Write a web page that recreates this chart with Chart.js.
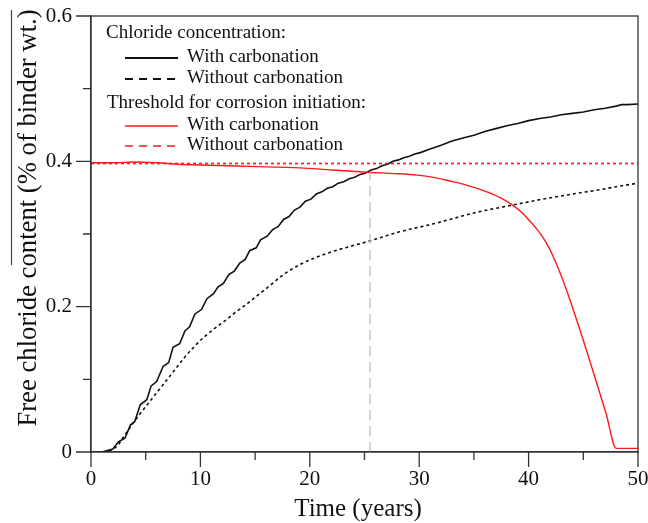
<!DOCTYPE html>
<html lang="en">
<head>
  <meta charset="UTF-8" />
  <title>Free chloride content vs time</title>
  <script src="https://cdn.jsdelivr.net/npm/chart.js"></script>
  <style>
    body { margin: 0; background: #fff; }
    #wrap { width: 648px; height: 523px; }
  </style>
</head>
<body>
  <div id="wrap"><canvas id="chlorideChart" width="648" height="523"></canvas></div>
  <script>
    // Chloride concentration with carbonation (time in years, % of binder wt.)
    const clCarbT = [0, 1.0, 2.0, 2.5, 3.1, 3.6, 4.0, 4.5, 5.1, 5.5, 6.0, 6.6, 7.1, 7.5, 8.1, 8.6, 9.0, 9.5, 10.1, 10.6,
      11.2, 11.6, 12.1, 12.6, 13.1, 13.6, 14.1, 14.5, 15.1, 15.5, 16.1, 16.6, 17.1, 17.6, 18.1, 18.6, 19.1, 19.6,
      20.1, 20.6, 21.1, 21.6, 22.1, 22.6, 23.1, 23.6, 24.1, 24.6, 25.1, 25.6, 26.1, 26.6, 27.1, 27.6, 28.1, 28.6,
      29.1, 29.6, 30.1, 31, 32, 33, 34, 35, 36, 37, 38, 39, 40, 41, 42, 43, 44, 45, 46, 47, 48, 48.5, 49, 50];
    const clCarbV = [0, 0, 0.004, 0.014, 0.019, 0.037, 0.042, 0.065, 0.072, 0.091, 0.097, 0.118, 0.123, 0.144, 0.149, 0.167, 0.172, 0.190, 0.196, 0.211,
      0.218, 0.227, 0.232, 0.244, 0.249, 0.260, 0.265, 0.277, 0.281, 0.292, 0.297, 0.306, 0.310, 0.320, 0.324, 0.333, 0.337, 0.345,
      0.348, 0.355, 0.358, 0.363, 0.365, 0.370, 0.372, 0.376, 0.378, 0.382, 0.384, 0.388, 0.390, 0.394, 0.396, 0.400, 0.402, 0.405,
      0.407, 0.410, 0.412, 0.417, 0.422, 0.428, 0.432, 0.436, 0.441, 0.445, 0.449, 0.452, 0.456, 0.459, 0.461, 0.464, 0.466, 0.468, 0.471, 0.473, 0.476, 0.478, 0.478, 0.479];

    // Chloride concentration without carbonation
    const clNoCarbT = [0, 1, 1.5, 2, 2.5, 2.8, 3.4, 4.3, 5.5, 6.5, 7.4, 8.6, 9.5, 10.4, 11.3, 12.2, 13.2, 14.1, 15.1, 16.1,
      17.6, 19.1, 20.6, 22.1, 23.7, 25.6, 28.2, 31.3, 32.8, 35, 38.6, 41.3, 44, 46.5, 48, 50];
    const clNoCarbV = [0, 0, 0.001, 0.004, 0.010, 0.017, 0.030, 0.049, 0.072, 0.091, 0.108, 0.131, 0.146, 0.159, 0.170, 0.180, 0.192, 0.202, 0.214, 0.226,
      0.244, 0.258, 0.268, 0.276, 0.283, 0.291, 0.303, 0.314, 0.320, 0.329, 0.340, 0.348, 0.355, 0.361, 0.365, 0.370];

    // Threshold for corrosion initiation with carbonation
    const thrCarbT = [0, 2, 4, 6, 8, 10, 14.5, 19.1, 22, 25.3, 28, 29.8, 31.3, 32.8, 34.4, 36, 37.4, 38.6, 39.5, 40.1,
      40.9, 41.65, 42.4, 43.2, 43.9, 44.7, 45.5, 46.2, 47.1, 48.0, 50];
    const thrCarbV = [0.398, 0.398, 0.399, 0.398, 0.396, 0.395, 0.393, 0.391, 0.388, 0.385, 0.383, 0.381, 0.378, 0.373, 0.367, 0.359, 0.350, 0.339, 0.328, 0.318,
      0.304, 0.287, 0.264, 0.234, 0.204, 0.168, 0.130, 0.096, 0.052, 0.005, 0.005];

    // Threshold without carbonation (constant)
    const thrNoCarbT = [0, 50];
    const thrNoCarbV = [0.397, 0.397];

    // Time when the chloride curve reaches the threshold
    const initT = [25.5, 25.5];
    const initV = [0, 0.385];

    const xTicks = [0, 10, 20, 30, 40, 50];
    const yTicks = [0, 0.2, 0.4, 0.6];

    const SERIF = "'Liberation Serif', 'Times New Roman', serif";
    const RED = '#ff1a1a';
    const INK = '#111';

    const pts = (t, v) => t.map((x, i) => ({ x: x, y: v[i] }));

    // frame, tick marks, axis titles and the two-group legend
    const decorations = {
      id: 'decorations',
      afterDraw(chart) {
        const { ctx, chartArea: a, scales: { x, y } } = chart;
        ctx.save();
        ctx.strokeStyle = '#333';
        ctx.lineWidth = 1.3;
        ctx.strokeRect(a.left, a.top, a.right - a.left, a.bottom - a.top);

        // tick marks, major outside 15px, minor 8px
        ctx.beginPath();
        for (let v = 0; v <= 50; v += 5) {
          const px = x.getPixelForValue(v);
          const len = v % 10 === 0 ? 15 : 8;
          ctx.moveTo(px, a.bottom); ctx.lineTo(px, a.bottom + len);
        }
        for (let k = 0; k <= 6; k++) {
          const py = y.getPixelForValue(k / 10);
          const len = k % 2 === 0 ? 15 : 8;
          ctx.moveTo(a.left, py); ctx.lineTo(a.left - len, py);
        }
        ctx.stroke();

        // axis titles
        ctx.fillStyle = INK;
        ctx.font = '25px ' + SERIF;
        ctx.textAlign = 'center';
        ctx.textBaseline = 'alphabetic';
        ctx.fillText('Time (years)', 358, 516);

        ctx.save();
        ctx.translate(36, 218);
        ctx.rotate(-Math.PI / 2);
        ctx.font = '26.7px ' + SERIF;
        ctx.fillText('Free chloride content (% of binder wt.)', 0, 0);
        ctx.restore();

        ctx.beginPath();
        ctx.strokeStyle = '#444';
        ctx.lineWidth = 1.2;
        ctx.moveTo(11.5, 10); ctx.lineTo(11.5, 265);
        ctx.stroke();

        // legend
        ctx.font = '19px ' + SERIF;
        ctx.textAlign = 'left';
        ctx.fillStyle = INK;
        ctx.fillText('Chloride concentration:', 106, 38);
        ctx.fillText('Threshold for corrosion initiation:', 107, 108);
        const rows = [
          { y: 58, base: 62, color: INK, dash: [], text: 'With carbonation' },
          { y: 79, base: 83, color: INK, dash: [8, 6], text: 'Without carbonation' },
          { y: 126, base: 129.5, color: RED, dash: [], text: 'With carbonation' },
          { y: 146, base: 150, color: RED, dash: [8, 6], text: 'Without carbonation' }
        ];
        rows.forEach(r => {
          ctx.beginPath();
          ctx.setLineDash(r.dash);
          ctx.strokeStyle = r.color;
          ctx.lineWidth = r.color === RED ? 1.4 : 1.8;
          ctx.moveTo(125, r.y); ctx.lineTo(178, r.y);
          ctx.stroke();
          ctx.setLineDash([]);
          ctx.fillStyle = INK;
          ctx.fillText(r.text, 187, r.base);
        });
        ctx.restore();
      }
    };

    const ctx = document.getElementById('chlorideChart').getContext('2d');
    new Chart(ctx, {
      type: 'line',
      data: {
        datasets: [
          { label: 'initiation', data: pts(initT, initV), borderColor: '#bdbdbd', borderWidth: 1.3, borderDash: [10, 6], tension: 0 },
          { label: 'Threshold, without carbonation', data: pts(thrNoCarbT, thrNoCarbV), borderColor: RED, borderWidth: 1.7, borderDash: [3, 3], tension: 0 },
          { label: 'Threshold, with carbonation', data: pts(thrCarbT, thrCarbV), borderColor: RED, borderWidth: 1.4, cubicInterpolationMode: 'monotone' },
          { label: 'Chloride, without carbonation', data: pts(clNoCarbT, clNoCarbV), borderColor: INK, borderWidth: 1.6, borderDash: [3, 3], cubicInterpolationMode: 'monotone' },
          { label: 'Chloride, with carbonation', data: pts(clCarbT, clCarbV), borderColor: INK, borderWidth: 1.6, tension: 0 }
        ]
      },
      options: {
        responsive: false,
        animation: false,
        devicePixelRatio: 1,
        elements: { point: { radius: 0 } },
        layout: { padding: { top: 16, right: 10, left: 0, bottom: 0 } },
        plugins: { legend: { display: false }, tooltip: { enabled: false } },
        scales: {
          x: {
            type: 'linear', min: 0, max: 50,
            afterBuildTicks: s => { s.ticks = xTicks.map(v => ({ value: v })); },
            afterFit: s => { s.height = 71; s.paddingLeft = 0; s.paddingRight = 0; },
            grid: { display: false, drawTicks: false, tickLength: 0 },
            border: { display: true, color: '#333', width: 1.3 },
            ticks: { font: { family: SERIF, size: 21 }, color: INK, padding: 15, maxRotation: 0 }
          },
          y: {
            type: 'linear', min: 0, max: 0.6,
            afterBuildTicks: s => { s.ticks = yTicks.map(v => ({ value: v })); },
            afterFit: s => { s.width = 91; s.paddingTop = 0; s.paddingBottom = 0; },
            grid: { display: false, drawTicks: false, tickLength: 0 },
            border: { display: true, color: '#333', width: 1.3 },
            ticks: {
              font: { family: SERIF, size: 21 }, color: INK, padding: 19,
              callback: v => v === 0 ? '0' : v.toFixed(1)
            }
          }
        }
      },
      plugins: [decorations]
    });
  </script>
</body>
</html>
